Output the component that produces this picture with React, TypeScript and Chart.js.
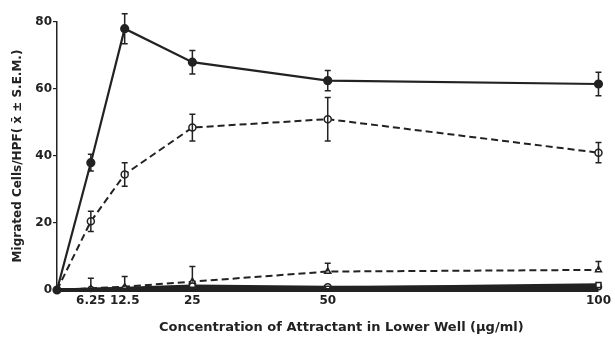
import React, { useEffect, useRef } from "react";
import { Chart, registerables } from "chart.js";

Chart.register(...registerables);

const concentrations = [0, 6.25, 12.5, 25, 50, 100];
const xTickValues = [6.25, 12.5, 25, 50, 100];

const filledCircleSeries = [0, 38, 78, 68, 62.5, 61.5];
const filledCircleErr = [0, 2.5, 4.5, 3.5, 3, 3.5];

const openCircleDashed = [0, 20.5, 34.5, 48.5, 51, 41];
const openCircleDashedErr = [0, 3, 3.5, 4, 6.5, 3];

const triangleDashed = [0, 0.5, 1, 2.5, 5.5, 6];
const triangleDashedErrUp = [0, 3, 3, 4.5, 2.5, 2.5];

const openCircleSolid = [0, 0.3, 0.5, 1.2, 0.8, 1];
const squareSolid = [0, 0, 0.2, 0.5, 0.5, 1.5];
const baseSolid = [0, 0, 0, 0, 0, 0];

const INK = "#222";

const toPts = (ys: number[]) => ys.map((y, i) => ({ x: concentrations[i], y }));

const errorBarPlugin = {
  id: "errorBars",
  afterDatasetsDraw(chart: any) {
    const ctx = chart.ctx;
    const xs = chart.scales.x;
    const ys = chart.scales.y;
    chart.data.datasets.forEach((ds: any) => {
      if (!ds.errUp && !ds.errDown) return;
      ds.data.forEach((p: any, i: number) => {
        const up = ds.errUp ? ds.errUp[i] : 0;
        const dn = ds.errDown ? ds.errDown[i] : 0;
        if (!up && !dn) return;
        const px = xs.getPixelForValue(p.x);
        const yTop = ys.getPixelForValue(p.y + up);
        const yBot = ys.getPixelForValue(p.y - dn);
        ctx.save();
        ctx.strokeStyle = INK;
        ctx.lineWidth = 1.5;
        ctx.beginPath();
        ctx.moveTo(px, yTop);
        ctx.lineTo(px, yBot);
        if (up) {
          ctx.moveTo(px - 3, yTop);
          ctx.lineTo(px + 3, yTop);
        }
        if (dn) {
          ctx.moveTo(px - 3, yBot);
          ctx.lineTo(px + 3, yBot);
        }
        ctx.stroke();
        ctx.restore();
      });
    });
  },
};

export default function App() {
  const ref = useRef<HTMLCanvasElement | null>(null);
  useEffect(() => {
    document.body.style.margin = "0";
    document.body.style.background = "#fff";
    const fam = "'DejaVu Sans', 'Liberation Sans', sans-serif";
    const tickFont = { family: fam, weight: "bold" as const, size: 12 };
    const chart = new Chart(ref.current as HTMLCanvasElement, {
      type: "line",
      data: {
        datasets: [
          {
            data: toPts(baseSolid),
            borderColor: INK,
            borderWidth: 4,
            pointRadius: 0,
            clip: false,
          } as any,
          {
            data: toPts(squareSolid),
            borderColor: INK,
            borderWidth: 3.5,
            pointStyle: "rect",
            pointRadius: [0, 0, 0, 0, 3, 3.5],
            pointBackgroundColor: "#fff",
            pointBorderColor: INK,
            pointBorderWidth: 1.5,
            clip: false,
          } as any,
          {
            data: toPts(openCircleSolid),
            borderColor: INK,
            borderWidth: 3,
            pointRadius: [0, 2.5, 2.5, 3, 3.5, 3],
            pointBackgroundColor: "#fff",
            pointBorderColor: INK,
            pointBorderWidth: 1.5,
            clip: false,
          } as any,
          {
            data: toPts(triangleDashed),
            borderColor: INK,
            borderWidth: 2,
            borderDash: [7, 4],
            pointStyle: "triangle",
            pointRadius: [0, 3, 3, 3.5, 3.5, 3.5],
            pointBackgroundColor: "#fff",
            pointBorderColor: INK,
            pointBorderWidth: 1.5,
            errUp: triangleDashedErrUp,
            clip: false,
          } as any,
          {
            data: toPts(openCircleDashed),
            borderColor: INK,
            borderWidth: 2,
            borderDash: [7, 4],
            pointRadius: [0, 3.5, 3.5, 3.5, 3.5, 3.5],
            pointBackgroundColor: "#fff",
            pointBorderColor: INK,
            pointBorderWidth: 1.5,
            errUp: openCircleDashedErr,
            errDown: openCircleDashedErr,
            clip: false,
          } as any,
          {
            data: toPts(filledCircleSeries),
            borderColor: INK,
            borderWidth: 2.2,
            pointRadius: 3.5,
            pointBackgroundColor: INK,
            pointBorderColor: INK,
            errUp: filledCircleErr,
            errDown: filledCircleErr,
            clip: false,
          } as any,
        ],
      },
      options: {
        animation: false,
        responsive: false,
        layout: { padding: { top: 22, right: 13, left: 0, bottom: 0 } },
        plugins: { legend: { display: false }, tooltip: { enabled: false } },
        scales: {
          x: {
            type: "linear",
            min: 0,
            max: 100,
            afterBuildTicks: (scale: any) => {
              scale.ticks = xTickValues.map((v) => ({ value: v }));
            },
            afterFit: (scale: any) => {
              scale.height = 54;
            },
            grid: { display: false, drawTicks: false },
            border: { display: false },
            ticks: {
              color: INK,
              font: tickFont,
              padding: 4,
              maxRotation: 0,
              autoSkip: false,
              callback: (v: any) => String(v),
            },
            title: {
              display: true,
              text: "      Concentration of Attractant in Lower Well (\u00b5g/ml)",
              color: INK,
              font: { family: fam, weight: "bold" as const, size: 13 },
              padding: { top: 0, bottom: 9 },
            },
          },
          y: {
            min: 0,
            max: 80,
            afterFit: (scale: any) => {
              scale.width = 57;
            },
            ticks: { stepSize: 20, color: INK, font: tickFont, padding: 1 },
            grid: { drawOnChartArea: false, drawTicks: true, tickLength: 4, color: INK, lineWidth: 1.2 },
            border: { display: true, color: INK, width: 1.5 },
            title: {
              display: true,
              text: "Migrated Cells/HPF( x\u0304 \u00b1 S.E.M.)",
              color: INK,
              font: { family: fam, weight: "bold" as const, size: 12 },
              padding: { top: 11, bottom: 0 },
            },
          },
        },
      },
      plugins: [errorBarPlugin],
    } as any);
    return () => chart.destroy();
  }, []);
  return (
    <div style={{ position: "absolute", left: 0, top: 0, width: 615, height: 344, background: "#fff" }}>
      <canvas ref={ref} width={615} height={344} style={{ width: 615, height: 344 }} />
    </div>
  );
}
